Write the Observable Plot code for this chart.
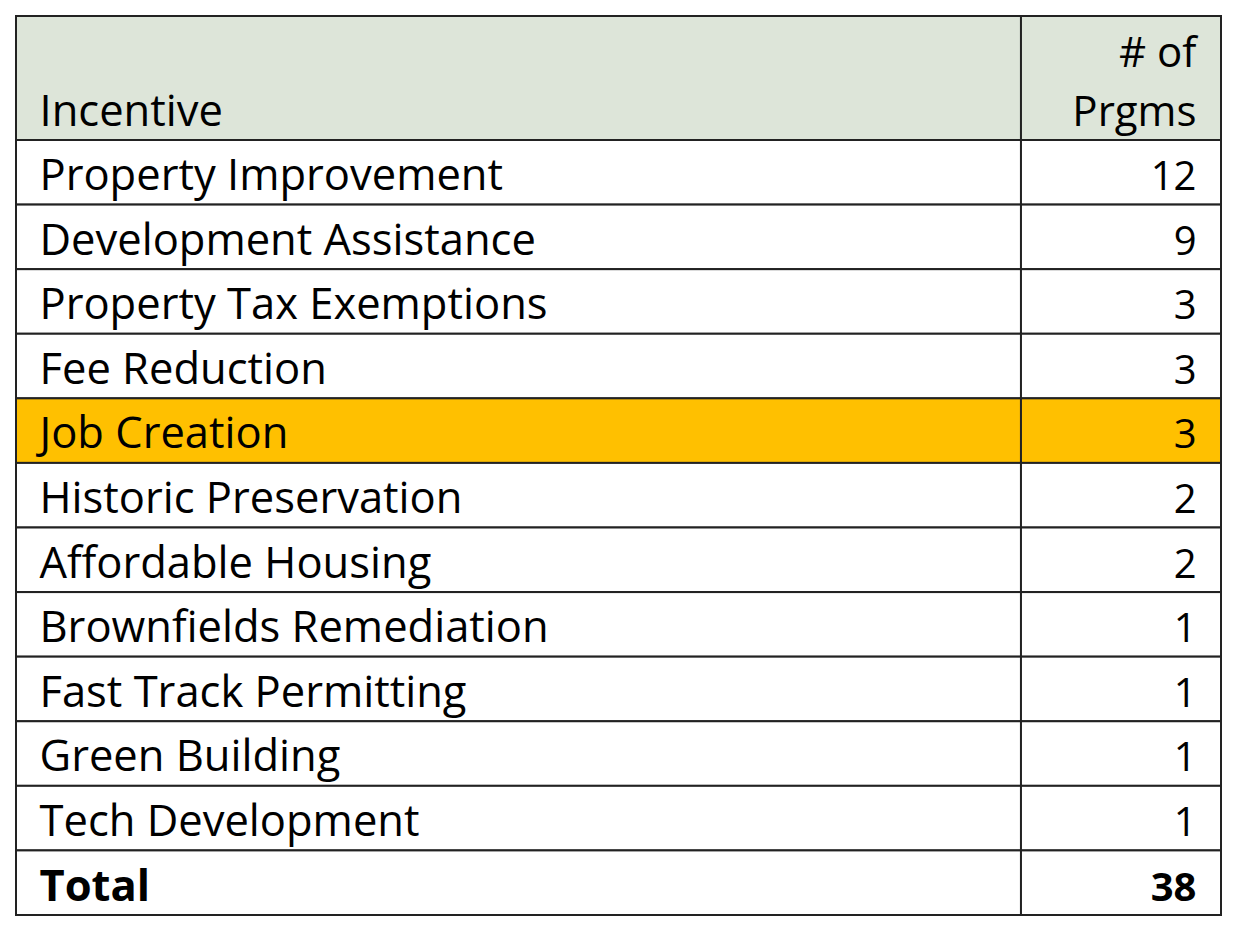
<!DOCTYPE html>
<html>
<head>
<meta charset="utf-8">
<script src="https://cdn.jsdelivr.net/npm/d3@7"></script>
<script src="https://cdn.jsdelivr.net/npm/@observablehq/plot@0.6"></script>
<style>
  html, body { margin: 0; padding: 0; background: #ffffff; }
  #chart svg { display: block; }
</style>
</head>
<body>
<div id="chart"></div>
<script>
// ---- data ----
const headerIncentive = "Incentive";
const headerCountLines = ["# of", "Prgms"];
const incentives = [
  "Property Improvement",
  "Development Assistance",
  "Property Tax Exemptions",
  "Fee Reduction",
  "Job Creation",
  "Historic Preservation",
  "Affordable Housing",
  "Brownfields Remediation",
  "Fast Track Permitting",
  "Green Building",
  "Tech Development"
];
const programCounts = [12, 9, 3, 3, 3, 2, 2, 1, 1, 1, 1];
const highlighted = ["Job Creation"];
const totalLabel = "Total";
const totalValue = 38;

// ---- table layout built from the data ----
const headerUnits = 1.92;         // header is ~1.92 body rows tall
const colSplit = 0.834;           // share of width used by the first column
const HEADER_FILL = "#dde5d9";
const HIGHLIGHT_FILL = "#ffc000";

const rows = incentives.map((name, i) => ({
  name, value: String(programCounts[i]), idx: i,
  fill: highlighted.includes(name) ? HIGHLIGHT_FILL : "#ffffff"
}));
const totalRow = [{name: totalLabel, value: String(totalValue), idx: incentives.length, fill: "#ffffff"}];
const allRows = rows.concat(totalRow);

const cells = [];
cells.push({x1: 0, x2: colSplit, y1: -headerUnits, y2: 0, fill: HEADER_FILL});
cells.push({x1: colSplit, x2: 1, y1: -headerUnits, y2: 0, fill: HEADER_FILL});
for (const r of allRows) {
  cells.push({x1: 0, x2: colSplit, y1: r.idx, y2: r.idx + 1, fill: r.fill});
  cells.push({x1: colSplit, x2: 1, y1: r.idx, y2: r.idx + 1, fill: r.fill});
}

const headerLeft = [{text: headerIncentive, y: 0}];
const headerRight = [
  {text: headerCountLines[0], y: -0.9},
  {text: headerCountLines[1], y: 0}
];

const FS = 43.5;
const FSN = 40;
const FONT = "'Open Sans', 'Noto Sans', sans-serif";

const common = {lineAnchor: "bottom", dy: -15, fill: "#000"};

const chart = Plot.plot({
  width: 1237,
  height: 932,
  margin: 0,
  x: {domain: [0, 1], range: [16, 1221], axis: null},
  y: {domain: [-headerUnits, allRows.length], range: [16, 915], axis: null},
  style: {fontFamily: FONT, background: "#ffffff"},
  marks: [
    Plot.rect(cells, {x1: "x1", x2: "x2", y1: "y1", y2: "y2", fill: d => d.fill, stroke: "#222222", strokeWidth: 2}),
    Plot.text(headerLeft, {...common, x: () => 0, y: "y", text: "text", textAnchor: "start", dx: 23, fontSize: FS}),
    Plot.text(headerRight, {...common, x: () => 1, y: "y", text: "text", textAnchor: "end", dx: -25, fontSize: 42}),
    Plot.text(rows, {...common, x: () => 0, y: d => d.idx + 1, text: "name", textAnchor: "start", dx: 23, fontSize: FS}),
    Plot.text(rows, {...common, x: () => 1, y: d => d.idx + 1, text: "value", textAnchor: "end", dx: -25, fontSize: FSN}),
    Plot.text(totalRow, {...common, x: () => 0, y: d => d.idx + 1, text: "name", textAnchor: "start", dx: 23, fontSize: FS, fontWeight: "bold"}),
    Plot.text(totalRow, {...common, x: () => 1, y: d => d.idx + 1, text: "value", textAnchor: "end", dx: -25, fontSize: FSN, fontWeight: "bold"})
  ]
});
document.getElementById("chart").appendChild(chart);
</script>
</body>
</html>
